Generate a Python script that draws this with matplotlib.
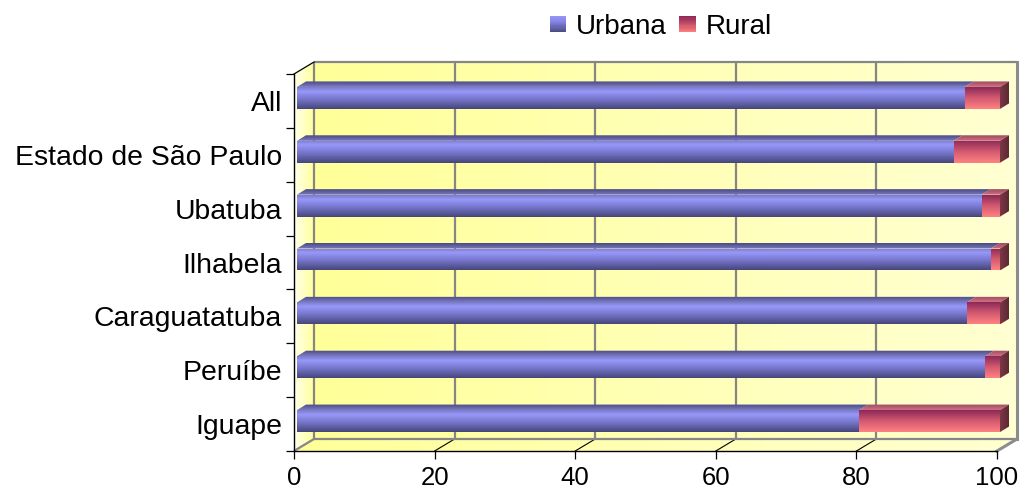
import numpy as np
import matplotlib
matplotlib.use("Agg")
import matplotlib.pyplot as plt
from matplotlib.patches import Polygon, Rectangle
from matplotlib.colors import LinearSegmentedColormap
from matplotlib.legend_handler import HandlerBase

# ---- data -------------------------------------------------------------
categories = ["Iguape", "Peruíbe", "Caraguatatuba", "Ilhabela", "Ubatuba",
              "Estado de São Paulo", "All"]
urbana = [80.0, 97.9, 95.3, 98.7, 97.4, 93.4, 95.0]
rural = [20.0, 2.1, 4.7, 1.3, 2.6, 6.6, 5.0]
series_names = ["Urbana", "Rural"]
x_ticks = [0, 20, 40, 60, 80, 100]

# ---- colour ramps (listed bottom -> top, or front -> back) -------------
URB_FRONT = [(0.0, "#45457a"), (0.45, "#7676cc"), (0.8, "#9898fa"), (1.0, "#7a7ac8")]
URB_TOP = [(0.0, "#7a7ac4"), (1.0, "#4a4a82")]
RUR_FRONT = [(0.0, "#ff8282"), (0.5, "#d45a70"), (1.0, "#8a2858")]
RUR_TOP = [(0.0, "#d07080"), (1.0, "#9a4a62")]
RUR_SIDE = [(0.0, "#7a3844"), (1.0, "#5e2834")]
WALL = [(0.0, "#ffff99"), (1.0, "#ffffd2")]
SIDE_WALL = [(0.0, "#ffffec"), (1.0, "#ffff9c")]

plt.rcParams["font.family"] = ["Liberation Sans", "DejaVu Sans"]

W, H, DPI = 1023, 490, 100
fig = plt.figure(figsize=(W / DPI, H / DPI), dpi=DPI)
fig.patch.set_facecolor("white")

n = len(categories)
ax = fig.add_axes([294 / W, 1 - 451 / H, 703 / W, 377 / H])
ax.set_xlim(0, 100)
ax.set_ylim(-0.5, n - 0.5)
ax.patch.set_visible(False)

# pixel sizes expressed in data units
PX = 100 / 703
PY = n / 377
DX, DY = 20 * PX, 12 * PY          # depth of the plot box
Y0, Y1 = -0.5, n - 0.5


def gradient_fill(verts, stops, vertical=True, z=1):
    verts = np.asarray(verts, dtype=float)
    poly = Polygon(verts, closed=True, facecolor="none", edgecolor="none",
                   zorder=z)
    ax.add_patch(poly)
    poly.set_clip_on(False)
    cmap = LinearSegmentedColormap.from_list("g", stops)
    g = np.linspace(0, 1, 256)
    img = g[:, None] if vertical else g[None, :]
    x0, y0 = verts.min(0)
    x1, y1 = verts.max(0)
    im = ax.imshow(img, cmap=cmap, extent=(x0, x1, y0, y1), origin="lower",
                   aspect="auto", interpolation="bilinear", zorder=z)
    im.set_clip_path(poly)
    im.set_clip_box(fig.bbox)
    return im


# ---- box: back wall, left wall, floor ---------------------------------
gradient_fill([(DX, Y0 + DY), (100 + DX, Y0 + DY), (100 + DX, Y1 + DY), (DX, Y1 + DY)],
              WALL, vertical=False, z=0.5)
gradient_fill([(0, Y0), (DX, Y0 + DY), (DX, Y1 + DY), (0, Y1)],
              SIDE_WALL, vertical=False, z=0.6)
gradient_fill([(0, Y0), (100, Y0), (100 + DX, Y0 + DY), (DX, Y0 + DY)],
              WALL, vertical=False, z=0.6)

grid_kw = dict(color="#868686", lw=1.6, clip_on=False, zorder=1, solid_capstyle="butt")
for xv in x_ticks[1:-1]:
    ax.plot([xv + DX, xv + DX], [Y0 + DY, Y1 + DY], **grid_kw)
    ax.plot([xv, xv + DX], [Y0, Y0 + DY], color="black", lw=0.8, clip_on=False, zorder=1)
# frame of the back wall and floor
ax.plot([DX, DX], [Y0 + DY, Y1 + DY], **grid_kw)
ax.plot([100 + DX, 100 + DX], [Y0 + DY, Y1 + DY], color="#8c8c8c", lw=2.2,
        clip_on=False, zorder=1)
ax.plot([DX, 100 + DX], [Y1 + DY, Y1 + DY], **grid_kw)
ax.plot([DX, 100 + DX], [Y0 + DY, Y0 + DY], **grid_kw)
ax.plot([0, DX], [Y0, Y0 + DY], **grid_kw)
ax.plot([100, 100 + DX], [Y0, Y0 + DY], color="#8c8c8c", lw=2.2, clip_on=False, zorder=1)
ax.plot([0, DX], [Y1, Y1 + DY], color="black", lw=0.9, clip_on=False, zorder=1)

# ---- 3-D stacked bars -------------------------------------------------
BH = 22 * PY                 # front face height
B0X, B0Y = 3 * PX, 3 * PY    # bar set slightly into the box
B1X, B1Y = 9 * PX, 5.5 * PY  # bar depth
styles = {"Urbana": (URB_FRONT, URB_TOP), "Rural": (RUR_FRONT, RUR_TOP)}

for i, (u, r) in enumerate(zip(urbana, rural)):
    left = 0.0
    for name, width in zip(series_names, (u, r)):
        front_c, top_c = styles[name]
        x0, x1 = left + B0X, left + width + B0X
        y0, y1 = i - BH / 2 + B0Y, i + BH / 2 + B0Y
        gradient_fill([(x0, y0), (x1, y0), (x1, y1), (x0, y1)], front_c, True, z=5)
        gradient_fill([(x0, y1), (x1, y1), (x1 + B1X, y1 + B1Y), (x0 + B1X, y1 + B1Y)],
                      top_c, True, z=5)
        left += width
    gradient_fill([(x1, y0), (x1 + B1X, y0 + B1Y), (x1 + B1X, y1 + B1Y), (x1, y1)],
                  RUR_SIDE, vertical=False, z=5)

# ---- axes, ticks, labels ----------------------------------------------
for side in ("top", "right"):
    ax.spines[side].set_visible(False)
for side in ("left", "bottom"):
    ax.spines[side].set_color("black")
    ax.spines[side].set_linewidth(1.0)
    ax.spines[side].set_zorder(6)

ax.set_xticks(x_ticks)
ax.set_xticklabels([str(t) for t in x_ticks], fontsize=18.5)
ax.tick_params(axis="x", direction="out", length=5.8, width=0.9, pad=5.0, colors="black")

ax.set_yticks(range(n))
ax.set_yticklabels(categories, fontsize=20.4)
ax.set_yticks(np.arange(-0.5, n, 1.0), minor=True)
ax.tick_params(axis="y", which="major", length=0, pad=8.6)
ax.tick_params(axis="y", which="minor", direction="out", length=5.8, width=0.9)


# ---- legend with shaded swatches --------------------------------------
class GradientHandler(HandlerBase):
    def __init__(self, stops):
        super().__init__()
        self.stops = stops

    def create_artists(self, legend, orig_handle, xdescent, ydescent,
                       width, height, fontsize, trans):
        cmap = LinearSegmentedColormap.from_list("h", self.stops)
        k = 14
        arts = []
        for j in range(k):
            arts.append(Rectangle((-xdescent, -ydescent + height * j / k),
                                  width, height / k * 1.05,
                                  facecolor=cmap((j + 0.5) / k),
                                  edgecolor="none", transform=trans))
        return arts


h_urb = Rectangle((0, 0), 1, 1)
h_rur = Rectangle((0, 0), 1, 1)
fig.legend([h_urb, h_rur], series_names, loc="center",
           bbox_to_anchor=(661 / W, 1 - 27 / H), ncol=2, frameon=False,
           fontsize=20, handlelength=0.6, handleheight=0.5,
           handletextpad=0.36, columnspacing=0.45,
           handler_map={h_urb: GradientHandler([(0, "#4a4a80"), (0.6, "#8080dc"), (1, "#9898fa")]),
                        h_rur: GradientHandler([(0, "#ff8080"), (0.5, "#c85068"), (1, "#8a2858")])})

fig.savefig("out.png", dpi=DPI)
